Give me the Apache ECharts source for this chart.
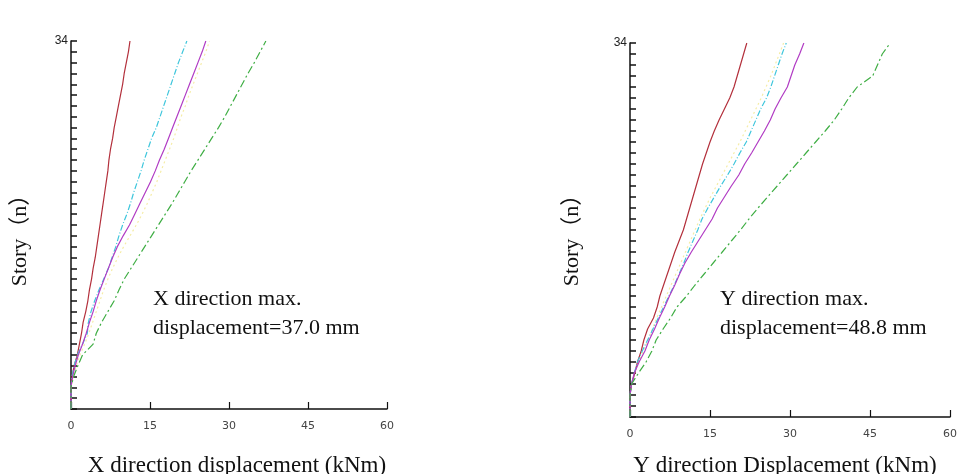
<!DOCTYPE html>
<html>
<head>
<meta charset="utf-8">
<script src="https://cdn.jsdelivr.net/npm/echarts@6/dist/echarts.min.js"></script>
<style>html,body{margin:0;padding:0;background:#fff;}#c{width:960px;height:474px;}</style>
</head>
<body>
<div id="c"></div>
<script>
var stories = [0,1,2,3,4,5,6,7,8,9,10,11,12,13,14,15,16,17,18,19,20,21,22,23,24,25,26,27,28,29,30,31,32,33,34];
var xTicks = [0, 15, 30, 45, 60];

// X direction displacement per story
var xRed     = [0,0,0,0.2,0.6,1.2,1.6,2.0,2.3,2.8,3.2,3.5,3.9,4.2,4.6,4.9,5.2,5.5,5.8,6.1,6.4,6.7,7.0,7.2,7.5,7.9,8.2,8.6,9.0,9.4,9.8,10.1,10.5,10.9,11.2];
var xCyan    = [0,0,0,0.2,0.6,1.2,2.2,3.1,3.3,3.8,4.5,5.3,6.2,7.1,7.8,8.5,9.1,9.8,10.6,11.3,11.9,12.6,13.3,13.9,14.6,15.3,16.2,16.9,17.6,18.3,19.0,19.7,20.4,21.2,22.0];
var xMagenta = [0,0,0,0.3,0.8,1.4,2.2,2.9,3.5,4.2,4.8,5.5,6.3,7.1,7.9,8.8,9.9,11.1,12.1,13.1,14.1,15.1,16.0,16.8,17.7,18.5,19.3,20.1,20.9,21.7,22.5,23.3,24.1,24.9,25.6];
var xYellow  = [0,0,0,0.4,1.0,1.7,2.6,3.4,4.1,4.8,5.5,6.2,7.0,7.9,8.9,10.0,11.2,12.4,13.5,14.5,15.4,16.3,17.1,17.9,18.7,19.5,20.2,20.9,21.7,22.4,23.2,24.0,24.8,25.6,26.3];
var xGreen   = [0,0,0,0.5,1.3,2.2,4.2,4.8,5.8,7.0,8.2,9.1,10.1,11.4,12.7,14.0,15.3,16.6,17.9,19.2,20.4,21.6,22.8,24.1,25.4,26.7,28.0,29.2,30.3,31.4,32.5,33.6,34.8,35.9,37.0];

// Y direction displacement per story
var yRed     = [0,0,0,0.3,0.9,1.4,2.1,2.6,3.3,4.4,5.1,5.6,6.3,7.0,7.7,8.4,9.2,10.0,10.6,11.2,11.8,12.4,13.0,13.6,14.3,15.0,15.8,16.7,17.7,18.7,19.5,20.1,20.7,21.3,21.9];
var yCyan    = [0,0,0,0.3,0.8,1.4,2.3,3.3,4.3,5.3,6.3,7.3,8.3,9.2,10.1,10.9,11.8,12.7,13.5,14.6,15.8,17.0,18.3,19.5,20.6,21.8,22.7,23.6,24.5,25.6,26.4,27.1,27.8,28.5,29.3];
var yMagenta = [0,0,0,0.3,0.8,1.7,2.8,3.6,4.6,5.5,6.5,7.4,8.4,9.3,10.3,11.5,12.8,14.1,15.4,16.4,17.7,19.0,20.4,21.5,22.8,24.0,25.2,26.3,27.2,28.3,29.5,30.2,30.9,31.8,32.6];
var yYellow  = [0,0,0,0.3,0.9,1.6,2.5,3.4,4.2,5.0,5.9,6.8,7.7,8.6,9.5,10.4,11.3,12.2,13.1,14.1,15.1,16.2,17.3,18.4,19.5,20.6,21.6,22.6,23.6,24.6,25.5,26.4,27.2,28.0,28.8];
var yGreen   = [0,0,0,0.3,1.6,3.0,4.1,4.9,6.2,7.6,8.8,10.6,12.2,13.9,15.6,17.3,19.0,20.7,22.3,24.0,25.8,27.6,29.4,31.2,33.0,34.8,36.6,38.3,39.7,41.0,42.6,45.5,46.4,47.3,48.8];

var xLabelLeft = 'X direction displacement (kNm)';
var xLabelRight = 'Y direction Displacement (kNm)';
var yLabel = 'Story\uFF08n\uFF09';
var noteLeft = ['X direction max.', 'displacement=37.0 mm'];
var noteRight = ['Y direction max.', 'displacement=48.8 mm'];

function pairs(vals) { return vals.map(function (v, i) { return [v, stories[i]]; }); }

var RED = { color: '#b3303c', type: 'solid', width: 1.2 };
var CYAN = { color: '#3ec6dc', type: [6, 2, 1, 2], width: 1.2 };
var MAGENTA = { color: '#b13cc4', type: 'solid', width: 1.2 };
var YELLOW = { color: '#f5eca6', type: [2, 3], width: 1.2 };
var GREEN = { color: '#3fae44', type: [8, 3, 2, 3], width: 1.2 };

function mkSeries(list, idx) {
  return list.map(function (item) {
    var a = item[0], st = item[1];
    return {
      type: 'line', xAxisIndex: idx, yAxisIndex: idx, data: pairs(a),
      symbol: 'none', silent: true, animation: false,
      lineStyle: { color: st.color, type: st.type, width: st.width }
    };
  });
}

function mkX(idx) {
  return {
    gridIndex: idx, type: 'value', min: 0, max: 60, interval: 15,
    axisLine: { show: true, lineStyle: { color: '#111', width: 1.5 } },
    axisTick: { show: true, inside: true, length: 7, lineStyle: { color: '#111', width: 1.2 } },
    axisLabel: { color: '#444', fontSize: 11, fontFamily: 'DejaVu Sans', margin: 12,
      formatter: function (v) { return xTicks.indexOf(v) >= 0 ? String(v) : ''; } },
    splitLine: { show: false }
  };
}
function mkY(idx) {
  return {
    gridIndex: idx, type: 'value', min: 0, max: 34, interval: 1,
    axisLine: { show: true, lineStyle: { color: '#111', width: 1.5 } },
    axisTick: { show: true, inside: true, length: 6, lineStyle: { color: '#111', width: 1.5 } },
    axisLabel: { color: '#222', fontSize: 12, fontFamily: 'Liberation Sans', margin: 3,
      formatter: function (v) { return v === 34 ? '34' : ''; } },
    splitLine: { show: false }
  };
}

var serif = '"Liberation Serif", "Times New Roman", "Noto Sans CJK SC", serif';
function txt(x, y, s, size, rot) {
  return { type: 'text', x: x, y: y, rotation: rot || 0, silent: true,
    style: { text: s, fill: '#111', font: size + 'px ' + serif, textAlign: 'center', textVerticalAlign: 'middle' } };
}
function note(x, y, s) {
  return { type: 'text', x: x, y: y, silent: true,
    style: { text: s, fill: '#111', font: '22px ' + serif, textAlign: 'left', textVerticalAlign: 'middle' } };
}

var chart = echarts.init(document.getElementById('c'), null, { renderer: 'canvas' });
chart.setOption({
  backgroundColor: '#fff',
  animation: false,
  grid: [
    { left: 71, width: 316, top: 41, height: 368 },
    { left: 630, width: 324, top: 43, height: 374 }
  ],
  xAxis: [mkX(0), mkX(1)],
  yAxis: [mkY(0), mkY(1)],
  series: mkSeries([[xYellow, YELLOW], [xRed, RED], [xCyan, CYAN], [xMagenta, MAGENTA], [xGreen, GREEN]], 0)
    .concat(mkSeries([[yYellow, YELLOW], [yRed, RED], [yCyan, CYAN], [yMagenta, MAGENTA], [yGreen, GREEN]], 1)),
  graphic: [
    txt(237, 466, xLabelLeft, 23),
    txt(785, 466, xLabelRight, 23),
    txt(20, 235, yLabel, 22, Math.PI / 2),
    txt(572, 235, yLabel, 22, Math.PI / 2),
    note(153, 299, noteLeft[0]),
    note(153, 328, noteLeft[1]),
    note(720, 299, noteRight[0]),
    note(720, 328, noteRight[1])
  ]
});
</script>
</body>
</html>
